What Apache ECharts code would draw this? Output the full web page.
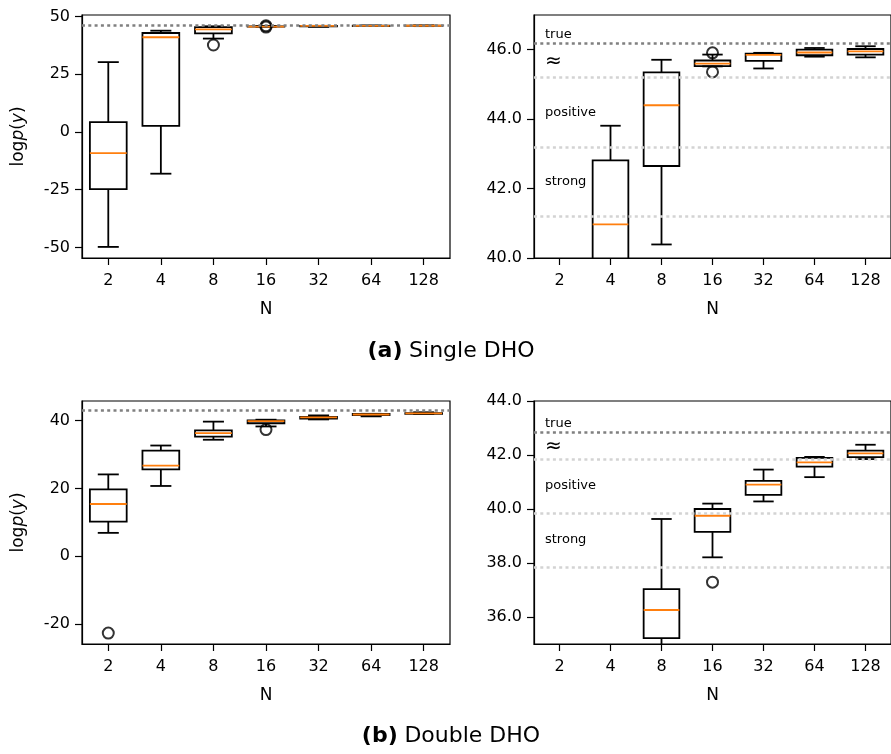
<!DOCTYPE html>
<html>
<head>
<meta charset="utf-8">
<script src="https://cdn.jsdelivr.net/npm/echarts@6/dist/echarts.min.js"></script>
<style>html,body{margin:0;padding:0;background:#fff;}#c{width:891px;height:754px;}</style>
</head>
<body>
<div id="c"></div>
<script>
// ---- data ----
const categories = ['2', '4', '8', '16', '32', '64', '128'];
// [lower whisker, q1, median, q3, upper whisker]
const singleStats = [
  [-49.8, -24.8, -9.2, 4.2, 30.2],
  [-18.1, 2.6, 40.97, 42.81, 43.81],
  [40.39, 42.65, 44.4, 45.35, 45.71],
  [45.52, 45.53, 45.6, 45.69, 45.86],
  [45.46, 45.68, 45.85, 45.89, 45.91],
  [45.8, 45.84, 45.92, 46.0, 46.05],
  [45.78, 45.86, 45.95, 46.02, 46.1]
];
const singleOutliers = [[2, 37.6], [3, 45.91], [3, 45.36]];
const singleTrue = 46.2;

const doubleStats = [
  [6.9, 10.2, 15.4, 19.7, 24.1],
  [20.7, 25.6, 26.7, 31.1, 32.6],
  [34.3, 35.22, 36.26, 37.03, 39.63],
  [38.21, 39.15, 39.75, 40.0, 40.2],
  [40.28, 40.52, 40.9, 41.04, 41.46],
  [41.18, 41.57, 41.73, 41.89, 41.93],
  [41.85, 41.92, 42.06, 42.16, 42.38]
];
const doubleOutliers = [[0, -22.6], [3, 37.29]];
const doubleTrue = 42.86;

const evidenceOffsets = [1, 3, 5];
const evidenceLabels = ['≈', 'positive', 'strong'];

const singleFullTicks = [-50, -25, 0, 25, 50];
const singleFullRange = [-54.6, 50.6];
const singleZoomTicks = [40, 42, 44, 46];
const singleZoomRange = [40, 47];
const doubleFullTicks = [-20, 0, 20, 40];
const doubleFullRange = [-25.8, 45.7];
const doubleZoomTicks = [36, 38, 40, 42, 44];
const doubleZoomRange = [35, 44];

const captions = ['Single DHO', 'Double DHO'];
const captionTags = ['(a)', '(b)'];

// ---- chart ----
const FONT = 'DejaVu Sans';
const chart = echarts.init(document.getElementById('c'), null, {renderer: 'canvas'});

const panels = [
  {stats: singleStats, out: singleOutliers, truth: singleTrue, ticks: singleFullTicks, range: singleFullRange, zoom: false, left: 82, top: 15, dec: 0, name: true},
  {stats: singleStats, out: singleOutliers, truth: singleTrue, ticks: singleZoomTicks, range: singleZoomRange, zoom: true, left: 534, top: 15, dec: 1, name: false},
  {stats: doubleStats, out: doubleOutliers, truth: doubleTrue, ticks: doubleFullTicks, range: doubleFullRange, zoom: false, left: 82, top: 401, dec: 0, name: true},
  {stats: doubleStats, out: doubleOutliers, truth: doubleTrue, ticks: doubleZoomTicks, range: doubleZoomRange, zoom: true, left: 534, top: 401, dec: 1, name: false}
];

const grids = [], xAxes = [], yAxes = [], series = [];
const dotted = [3, 3.3];
const LW = 1.8;

panels.forEach((p, i) => {
  grids.push({left: p.left, top: p.top, width: 368, height: 243, show: true, borderColor: '#000', borderWidth: 1.2, backgroundColor: 'transparent'});
  xAxes.push({
    type: 'category', gridIndex: i, data: categories, boundaryGap: true,
    name: 'N', nameLocation: 'middle', nameGap: 43,
    nameTextStyle: {fontFamily: FONT, fontSize: 17, color: '#000'},
    axisLine: {show: true, onZero: false, lineStyle: {color: '#000', width: 1.2}},
    axisTick: {show: true, alignWithLabel: true, length: 7, lineStyle: {color: '#000', width: 1.2}},
    axisLabel: {fontFamily: FONT, fontSize: 16, color: '#000', margin: 15},
    splitLine: {show: false}
  });
  yAxes.push({
    type: 'value', gridIndex: i, min: p.range[0], max: p.range[1],
    name: p.name ? '{a|log}{b|p}{a|(}{b|y}{a|)}' : '',
    nameLocation: 'middle', nameGap: 55, nameRotate: 90,
    nameTextStyle: {rich: {a: {fontFamily: FONT, fontSize: 17, color: '#000'}, b: {fontFamily: FONT, fontSize: 17, fontStyle: 'italic', color: '#000'}}},
    axisLine: {show: true, onZero: false, lineStyle: {color: '#000', width: 1.2}},
    axisTick: {show: true, length: 7, customValues: p.ticks, lineStyle: {color: '#000', width: 1.2}},
    axisLabel: {fontFamily: FONT, fontSize: 16, color: '#000', margin: 12, customValues: p.ticks,
      formatter: (v) => v.toFixed(p.dec)},
    splitLine: {show: false}
  });

  // reference lines
  const mlData = [{yAxis: p.truth, lineStyle: {color: '#808080', type: dotted, width: 2.5},
    label: p.zoom ? {show: true, position: 'insideStartTop', formatter: 'true', fontFamily: FONT, fontSize: 13, color: '#000', distance: [11, 2]} : {show: false}}];
  const maData = [];
  if (p.zoom) {
    evidenceOffsets.forEach((o, k) => {
      mlData.push({yAxis: p.truth - o, lineStyle: {color: '#d3d3d3', type: dotted, width: 2.5}, label: {show: false}});
      const upper = k === 0 ? p.truth : p.truth - evidenceOffsets[k - 1];
      maData.push([{yAxis: upper, name: evidenceLabels[k]}, {yAxis: p.truth - o}]);
    });
  }
  series.push({
    type: 'scatter', xAxisIndex: i, yAxisIndex: i, data: [], silent: true, z: 1,
    markLine: {silent: true, symbol: 'none', animation: false, data: mlData},
    markArea: p.zoom ? {silent: true, animation: false, itemStyle: {color: 'rgba(0,0,0,0)'},
      label: {show: true, position: 'insideLeft', distance: 11, fontFamily: FONT, color: '#000',
        formatter: (prm) => prm.name === '≈' ? '{big|≈}' : prm.name,
        fontSize: 13, rich: {big: {fontSize: 20, fontFamily: FONT, color: '#000', padding: [4, 0, 0, 0]}}},
      data: maData} : undefined
  });

  // boxes
  series.push({
    type: 'custom', xAxisIndex: i, yAxisIndex: i, clip: true, z: 2, silent: true,
    data: p.stats.map((s, k) => [k].concat(s)),
    encode: {x: 0, y: [1, 2, 3, 4, 5]},
    renderItem: (params, api) => {
      const x = api.value(0);
      const pts = [1, 2, 3, 4, 5].map(d => api.coord([x, api.value(d)]));
      const band = api.size([1, 0])[0];
      const cx = pts[0][0];
      const bw = band * 0.35, cw = band * 0.2;
      const st = {stroke: '#000', lineWidth: LW, fill: null};
      return {type: 'group', children: [
        {type: 'line', shape: {x1: cx, y1: pts[3][1], x2: cx, y2: pts[4][1]}, style: st},
        {type: 'line', shape: {x1: cx, y1: pts[1][1], x2: cx, y2: pts[0][1]}, style: st},
        {type: 'line', shape: {x1: cx - cw, y1: pts[4][1], x2: cx + cw, y2: pts[4][1]}, style: st},
        {type: 'line', shape: {x1: cx - cw, y1: pts[0][1], x2: cx + cw, y2: pts[0][1]}, style: st},
        {type: 'rect', shape: {x: cx - bw, y: pts[3][1], width: 2 * bw, height: pts[1][1] - pts[3][1]}, style: {stroke: '#000', lineWidth: LW, fill: 'rgba(0,0,0,0)'}},
        {type: 'line', shape: {x1: cx - bw, y1: pts[2][1], x2: cx + bw, y2: pts[2][1]}, style: {stroke: '#ff7f0e', lineWidth: LW}}
      ]};
    }
  });

  // outliers
  series.push({
    type: 'scatter', xAxisIndex: i, yAxisIndex: i, clip: true, z: 3, silent: true,
    data: p.out, symbol: 'circle', symbolSize: 11,
    itemStyle: {color: 'rgba(0,0,0,0)', borderColor: '#000', borderWidth: 2}
  });
});

const graphics = captions.map((c, k) => ({
  type: 'text', x: 451, y: k === 0 ? 351 : 736,
  style: {text: '{b|' + captionTags[k] + '}  {n|' + c + '}', align: 'center', verticalAlign: 'middle',
    rich: {b: {fontFamily: FONT, fontWeight: 'bold', fontSize: 22, fill: '#000'},
           n: {fontFamily: FONT, fontSize: 22, fill: '#000'}}}
}));

chart.setOption({
  animation: false,
  backgroundColor: '#fff',
  grid: grids, xAxis: xAxes, yAxis: yAxes, series: series,
  graphic: graphics
});
</script>
</body>
</html>
